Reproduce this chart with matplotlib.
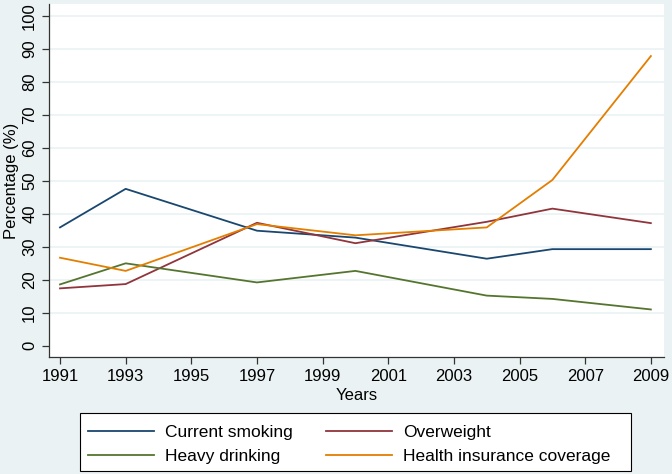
import matplotlib
matplotlib.use("Agg")
import matplotlib.pyplot as plt
from matplotlib.patches import Rectangle

years = [1991, 1993, 1997, 2000, 2004, 2006, 2009]
smoking = [35.9, 47.6, 34.9, 32.8, 26.4, 29.3, 29.3]
overweight = [17.4, 18.7, 37.3, 31.1, 37.6, 41.6, 37.2]
drinking = [18.6, 25.0, 19.2, 22.7, 15.2, 14.2, 11.0]
insurance = [26.7, 22.7, 36.9, 33.5, 35.9, 50.3, 87.9]

xticks = list(range(1991, 2010, 2))
yticks = list(range(0, 101, 10))

plt.rcParams['font.family'] = ['Liberation Sans', 'DejaVu Sans']

W, H = 672, 474
bg = '#eaf2f3'
fig = plt.figure(figsize=(W/100, H/100), dpi=100, facecolor=bg)
# axes box in pixels: left 49, right 664, top 4, bottom 357
ax = fig.add_axes([49/W, 1 - 357/H, (664-49)/W, (357-4)/H])
ax.set_facecolor('white')

l1, = ax.plot(years, smoking, color='#1a476f', lw=1.3, label='Current smoking')
l2, = ax.plot(years, overweight, color='#90353b', lw=1.3, label='Overweight')
l3, = ax.plot(years, drinking, color='#55752f', lw=1.3, label='Heavy drinking')
l4, = ax.plot(years, insurance, color='#e37e00', lw=1.3, label='Health insurance coverage')

ax.set_xlim(1990.665, 2009.40)
ax.set_ylim(-3.43, 103.7)
ax.set_xticks(xticks)
ax.set_yticks(yticks)
ax.set_yticklabels([str(v) for v in yticks], rotation=90, va='center')
for v in yticks[1:]:
    ax.axhline(v, color=bg, lw=1.2, zorder=0)

for s in ['top', 'right']:
    ax.spines[s].set_visible(False)
for s in ['left', 'bottom']:
    ax.spines[s].set_color('#333333')
    ax.spines[s].set_linewidth(0.9)
ax.tick_params(direction='out', length=5, width=0.9, color='#333333', labelsize=12, pad=3.5)

ax.set_xlabel('Years', fontsize=12, labelpad=3)
ax.set_ylabel('Percentage (%)', fontsize=12, labelpad=2)

# legend box (Stata style: white, black border, wide right margin)
fig.patches.append(Rectangle((80/W, 1 - 471/H), (631-80)/W, (471-413)/H,
                             transform=fig.transFigure, facecolor='white',
                             edgecolor='black', lw=0.8, zorder=1))

# row-major order like the reference
handles = [l1, l3, l2, l4]
leg = fig.legend(handles, [h.get_label() for h in handles],
                 loc='upper left', bbox_to_anchor=(88/W, 1 - 425/H), ncol=2,
                 fontsize=12.5, frameon=False, handlelength=3.8,
                 columnspacing=1.9, handletextpad=0.65, borderpad=0, labelspacing=0.5,
                 borderaxespad=0)
leg.set_zorder(2)

fig.savefig('out.png', dpi=100, facecolor=bg)
